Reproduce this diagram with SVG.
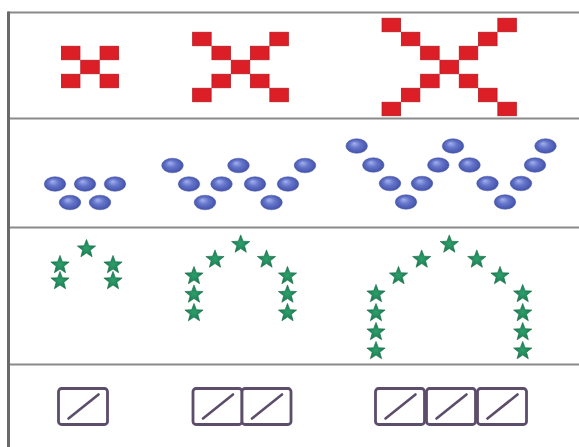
<svg xmlns="http://www.w3.org/2000/svg" xmlns:xlink="http://www.w3.org/1999/xlink" width="579" height="447" viewBox="0 0 579 447">
  <style>
    .sq { fill: #dc1f27; stroke: #b9161d; stroke-width: 0.8; }
    .ov { fill: url(#ovg); stroke: #4a58a8; stroke-width: 0.5; }
    .st { fill: url(#stg); stroke: #146a44; stroke-width: 0.6; stroke-linejoin: round; }
    .bx { fill: #ffffff; stroke: #5c4d6b; stroke-width: 2.8; }
    .bl { stroke: #5c4d6b; stroke-width: 2.6; stroke-linecap: round; }
    .hl { stroke: #8a8a8a; stroke-width: 2; }
  </style>
  <defs>
    <radialGradient id="ovg" cx="50%" cy="50%" r="55%" fx="38%" fy="32%">
      <stop offset="0" stop-color="#a4b1ee"/>
      <stop offset="0.45" stop-color="#6374c9"/>
      <stop offset="1" stop-color="#3f4ea6"/>
    </radialGradient>
    <radialGradient id="stg" cx="50%" cy="50%" r="55%">
      <stop offset="0" stop-color="#2e9e6c"/>
      <stop offset="1" stop-color="#16784c"/>
    </radialGradient>
    <rect id="sq" class="sq" width="18.5" height="13.5"/>
    <ellipse id="ov" class="ov" cx="0" cy="0" rx="10.8" ry="7.3"/>
    <polygon id="st" class="st" points="0,-9.6 2.4,-3.3 9.13,-2.97 3.88,1.26 5.64,7.77 0,4.08 -5.64,7.77 -3.88,1.26 -9.13,-2.97 -2.4,-3.3"/>
    <g id="bx">
      <rect class="bx" x="0" y="0" width="49" height="36" rx="3"/>
      <line class="bl" x1="10" y1="30" x2="40" y2="6"/>
    </g>
  </defs>
  <rect width="579" height="447" fill="#ffffff"/>

  <g id="frame">
    <line class="hl" x1="8" y1="12.5" x2="579" y2="12.5"/>
    <line class="hl" x1="8" y1="118.5" x2="579" y2="118.5"/>
    <line class="hl" x1="8" y1="227.5" x2="579" y2="227.5"/>
    <line class="hl" x1="8" y1="364.5" x2="579" y2="364.5"/>
    <line x1="8.5" y1="11.5" x2="8.5" y2="447" stroke="#6a6a6a" stroke-width="3"/>
  </g>

  <g id="connectors"/>

  <g id="squares-1">
    <use href="#sq" x="61.45" y="46.25"/><use href="#sq" x="100.05" y="46.25"/>
    <use href="#sq" x="80.75" y="60.25"/>
    <use href="#sq" x="61.45" y="74.25"/><use href="#sq" x="100.05" y="74.25"/>
  </g>
  <g id="squares-2">
    <use href="#sq" x="192.65" y="32.25"/><use href="#sq" x="211.95" y="46.25"/>
    <use href="#sq" x="231.25" y="60.25"/><use href="#sq" x="250.55" y="74.25"/>
    <use href="#sq" x="269.85" y="88.25"/><use href="#sq" x="269.85" y="32.25"/>
    <use href="#sq" x="250.55" y="46.25"/><use href="#sq" x="211.95" y="74.25"/>
    <use href="#sq" x="192.65" y="88.25"/>
  </g>
  <g id="squares-3">
    <use href="#sq" x="382.05" y="18.25"/><use href="#sq" x="401.35" y="32.25"/>
    <use href="#sq" x="420.65" y="46.25"/><use href="#sq" x="439.95" y="60.25"/>
    <use href="#sq" x="459.25" y="74.25"/><use href="#sq" x="478.55" y="88.25"/>
    <use href="#sq" x="497.85" y="102.25"/>
    <use href="#sq" x="497.85" y="18.25"/><use href="#sq" x="478.55" y="32.25"/>
    <use href="#sq" x="459.25" y="46.25"/><use href="#sq" x="420.65" y="74.25"/>
    <use href="#sq" x="401.35" y="88.25"/><use href="#sq" x="382.05" y="102.25"/>
  </g>

  <g id="ovals-1">
    <use href="#ov" x="55" y="184"/><use href="#ov" x="85" y="184"/><use href="#ov" x="115" y="184"/>
    <use href="#ov" x="70" y="202.5"/><use href="#ov" x="100" y="202.5"/>
  </g>
  <g id="ovals-2">
    <use href="#ov" x="172.5" y="165.5"/><use href="#ov" x="189" y="184"/>
    <use href="#ov" x="205" y="202.5"/><use href="#ov" x="221.5" y="184"/>
    <use href="#ov" x="238.5" y="165.5"/><use href="#ov" x="255" y="184"/>
    <use href="#ov" x="271.5" y="202.5"/><use href="#ov" x="288" y="184"/>
    <use href="#ov" x="305" y="165.5"/>
  </g>
  <g id="ovals-3">
    <use href="#ov" x="356.7" y="146"/><use href="#ov" x="373.3" y="165"/>
    <use href="#ov" x="390" y="183.5"/><use href="#ov" x="406" y="202"/>
    <use href="#ov" x="422" y="183.5"/><use href="#ov" x="438.3" y="165"/>
    <use href="#ov" x="453" y="146"/><use href="#ov" x="469.5" y="165"/>
    <use href="#ov" x="487.5" y="183.5"/><use href="#ov" x="505" y="202"/>
    <use href="#ov" x="521" y="183.5"/><use href="#ov" x="535" y="165"/>
    <use href="#ov" x="545.5" y="146"/>
  </g>

  <g id="stars-1">
    <use href="#st" x="86.5" y="249"/>
    <use href="#st" x="60" y="265"/><use href="#st" x="60" y="281"/>
    <use href="#st" x="113" y="265"/><use href="#st" x="113" y="281"/>
  </g>
  <g id="stars-2">
    <use href="#st" x="240.7" y="244.5"/>
    <use href="#st" x="215" y="259.5"/><use href="#st" x="266.5" y="259.5"/>
    <use href="#st" x="194" y="276"/><use href="#st" x="194" y="294.5"/><use href="#st" x="194" y="313"/>
    <use href="#st" x="287.5" y="276"/><use href="#st" x="287.5" y="294.5"/><use href="#st" x="287.5" y="313"/>
  </g>
  <g id="stars-3">
    <use href="#st" x="449.3" y="244.5"/>
    <use href="#st" x="421.7" y="259.5"/><use href="#st" x="476.8" y="259.5"/>
    <use href="#st" x="398.5" y="276"/><use href="#st" x="500" y="276"/>
    <use href="#st" x="376" y="294"/><use href="#st" x="376" y="313"/>
    <use href="#st" x="376" y="332"/><use href="#st" x="376" y="351"/>
    <use href="#st" x="522.7" y="294"/><use href="#st" x="522.7" y="313"/>
    <use href="#st" x="522.7" y="332"/><use href="#st" x="522.7" y="351"/>
  </g>

  <g id="boxes-1">
    <use href="#bx" x="58.5" y="388.5"/>
  </g>
  <g id="boxes-2">
    <use href="#bx" x="193" y="388.5"/><use href="#bx" x="242" y="388.5"/>
  </g>
  <g id="boxes-3">
    <use href="#bx" x="375.5" y="388.5"/><use href="#bx" x="426.5" y="388.5"/><use href="#bx" x="477.5" y="388.5"/>
  </g>
</svg>
